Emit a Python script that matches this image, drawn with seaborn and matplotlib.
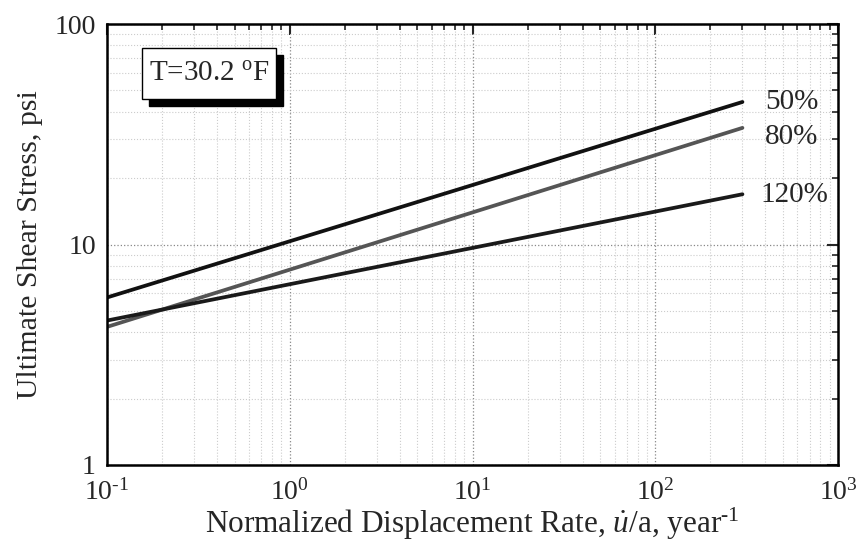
import matplotlib
matplotlib.use("Agg")
import matplotlib.pyplot as plt
import seaborn as sns
import pandas as pd
import numpy as np
from matplotlib.ticker import LogLocator, NullFormatter, FixedLocator, FixedFormatter
from matplotlib.patches import Rectangle

sns.set_style("white")
plt.rcParams['font.family'] = ['Liberation Serif', 'DejaVu Serif']
plt.rcParams['mathtext.fontset'] = 'custom'
plt.rcParams['mathtext.rm'] = 'Liberation Serif'
plt.rcParams['mathtext.it'] = 'Liberation Serif:italic'
plt.rcParams['axes.unicode_minus'] = False

rate = [0.1, 300]
s50 = [5.75, 44.3]
s80 = [4.23, 33.8]
s120 = [4.52, 16.9]
series = ["50%", "80%", "120%"]
colors = ["#111111", "#555555", "#1a1a1a"]
xticklabels = ["10$^{\\mathregular{\u20101}}$", "10$^{\\mathregular{0}}$", "10$^{\\mathregular{1}}$",
               "10$^{\\mathregular{2}}$", "10$^{\\mathregular{3}}$"]
yticklabels = ["1", "10", "100"]

df = pd.DataFrame({
    "rate": rate * 3,
    "stress": s50 + s80 + s120,
    "series": [series[0]] * 2 + [series[1]] * 2 + [series[2]] * 2,
})

fig = plt.figure(figsize=(8.6, 5.45), dpi=100)
L, R, T, B = 107, 838, 24, 465
ax = fig.add_axes([L/860, 1 - B/545, (R-L)/860, (B-T)/545])

sns.lineplot(data=df, x="rate", y="stress", hue="series", palette=dict(zip(series, colors)),
             linewidth=2.7, legend=False, ax=ax)
ax.set_xscale("log")
ax.set_yscale("log")
ax.set_xlim(0.1, 1000)
ax.set_ylim(1, 100)

ax.xaxis.set_major_locator(FixedLocator([0.1, 1, 10, 100, 1000]))
ax.xaxis.set_major_formatter(FixedFormatter(xticklabels))
ax.yaxis.set_major_locator(FixedLocator([1, 10, 100]))
ax.yaxis.set_major_formatter(FixedFormatter(yticklabels))
ax.xaxis.set_minor_locator(LogLocator(base=10, subs=np.arange(2, 10)))
ax.yaxis.set_minor_locator(LogLocator(base=10, subs=np.arange(2, 10)))
ax.xaxis.set_minor_formatter(NullFormatter())
ax.yaxis.set_minor_formatter(NullFormatter())

ax.tick_params(which="major", direction="in", length=8, width=1.5, top=True, right=True,
               labelsize=20)
ax.tick_params(axis="x", which="major", pad=10)
ax.tick_params(axis="y", which="major", pad=8)
ax.tick_params(which="minor", direction="in", length=4, width=1.2, top=True, right=True)
for s in ax.spines.values():
    s.set_linewidth(1.8)
    s.set_color("black")

ax.grid(which="major", color="#888888", linestyle=":", linewidth=0.9)
ax.grid(which="minor", color="#cccccc", linestyle=":", linewidth=0.8)
ax.set_axisbelow(True)

ax.set_xlabel("Normalized Displacement Rate, $\\dot{\\mathit{u}}$/a, year$^{\\mathregular{\u20101}}$",
              fontsize=22.5, labelpad=0)
ax.set_ylabel("Ultimate Shear Stress, psi", fontsize=21.5, labelpad=8)

label_pos = [(0.937, 0.823), (0.937, 0.744), (0.94, 0.612)]
for lab, (lx, ly) in zip(series, label_pos):
    ax.text(lx, ly, lab, transform=ax.transAxes, fontsize=21, ha="center", va="center")

# text box with shadow
bx0, by0, bw, bh = 142, 48, 134, 51
def px(x, y):
    return ((x - L) / (R - L), (B - y) / (B - T))
sw = bw / (R - L)
sh = bh / (B - T)
sx, sy = px(bx0 + 7, by0 + bh + 7)
ax.add_patch(Rectangle((sx, sy), sw, sh, transform=ax.transAxes, facecolor="black",
                       edgecolor="black", zorder=5))
x0, y0 = px(bx0, by0 + bh)
ax.add_patch(Rectangle((x0, y0), sw, sh, transform=ax.transAxes, facecolor="white",
                       edgecolor="black", linewidth=1, zorder=6))
ax.text(x0 + sw / 2, y0 + sh / 2, "T=30.2 $^{\\mathregular{o}}$F", transform=ax.transAxes,
        fontsize=21, ha="center", va="center", zorder=7)

fig.savefig("out.png", dpi=100)
